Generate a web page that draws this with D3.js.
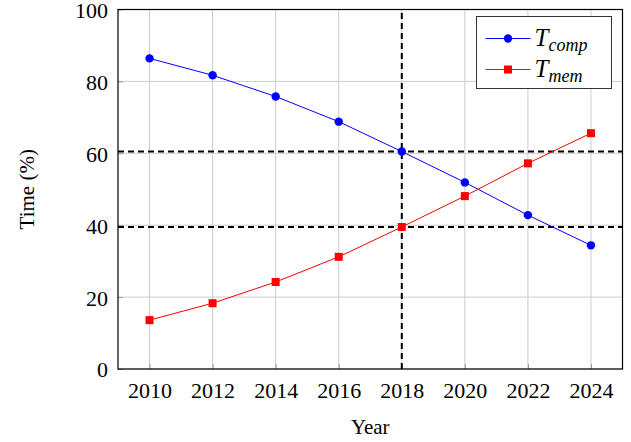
<!DOCTYPE html>
<html>
<head>
<meta charset="utf-8">
<script src="https://cdn.jsdelivr.net/npm/d3@7"></script>
<style>
  body { margin: 0; background: #fff; }
  svg text { font-family: "Liberation Serif", serif !important; }
</style>
</head>
<body>
<div class="chart"></div>
<script>
var years = [2010, 2012, 2014, 2016, 2018, 2020, 2022, 2024];
var tComp = [86.4, 81.7, 75.8, 68.8, 60.5, 51.9, 42.8, 34.4];
var tMem = [13.6, 18.3, 24.2, 31.2, 39.5, 48.1, 57.2, 65.6];
var yTicks = [0, 20, 40, 60, 80, 100];
var crossYear = 2018;
var crossLevels = [60.5, 39.5];

var w = 631, h = 442;
var margin = {top: 9.5, right: 8.5, bottom: 73, left: 118};

var svg = d3.select("div.chart")
            .append("svg")
            .attr("width", w)
            .attr("height", h);

var x = d3.scaleLinear()
          .domain([2009, 2025])
          .range([margin.left, w - margin.right]);

var y = d3.scaleLinear()
          .domain([0, 100])
          .range([h - margin.bottom, margin.top]);

//grid
svg.append("g")
   .selectAll("line")
   .data(years)
   .enter()
   .append("line")
      .attr("x1", d => x(d)).attr("x2", d => x(d))
      .attr("y1", y(0)).attr("y2", y(100))
      .attr("stroke", "#cccccc").attr("stroke-width", 1);

svg.append("g")
   .selectAll("line")
   .data(yTicks)
   .enter()
   .append("line")
      .attr("x1", x(2009)).attr("x2", x(2025))
      .attr("y1", d => y(d)).attr("y2", d => y(d))
      .attr("stroke", "#cccccc").attr("stroke-width", 1);

//axes, ticks drawn inward
var xAxis = d3.axisBottom(x).tickValues(years).tickFormat(d3.format("d"))
              .tickSizeInner(-5).tickSizeOuter(0).tickPadding(13);
var xg = svg.append("g").attr("transform", "translate(0," + y(0) + ")").call(xAxis);

var yAxis = d3.axisLeft(y).tickValues(yTicks)
              .tickSizeInner(-5).tickSizeOuter(0).tickPadding(10);
var yg = svg.append("g").attr("transform", "translate(" + x(2009) + ",0)").call(yAxis);

[xg, yg].forEach(function(g){
  g.attr("font-size", 22);
  g.select(".domain").remove();
  g.selectAll(".tick line").attr("stroke", "#999");
  g.selectAll("text").attr("fill", "#000").style("font-weight", "normal");
});
yg.selectAll("text").attr("dy", "0.36em");

//frame
svg.append("rect")
   .attr("x", x(2009)).attr("y", y(100))
   .attr("width", x(2025) - x(2009)).attr("height", y(0) - y(100))
   .attr("fill", "none").attr("stroke", "#000").attr("stroke-width", 1.2);

//dashed crossover lines
svg.append("line")
   .attr("x1", x(crossYear)).attr("x2", x(crossYear))
   .attr("y1", y(0)).attr("y2", y(100))
   .attr("stroke", "#000").attr("stroke-width", 2).attr("stroke-dasharray", "6,4");

svg.selectAll(".hdash")
   .data(crossLevels)
   .enter()
   .append("line")
      .attr("x1", x(2009)).attr("x2", x(2025))
      .attr("y1", d => y(d)).attr("y2", d => y(d))
      .attr("stroke", "#000").attr("stroke-width", 2).attr("stroke-dasharray", "6,4");

//series
var line = d3.line().x((d, i) => x(years[i])).y(d => y(d));

svg.append("path").datum(tComp)
   .attr("d", line).attr("fill", "none").attr("stroke", "blue").attr("stroke-width", 1);
svg.append("path").datum(tMem)
   .attr("d", line).attr("fill", "none").attr("stroke", "red").attr("stroke-width", 1);

svg.selectAll(".comp")
   .data(tComp)
   .enter()
   .append("circle")
      .attr("cx", (d, i) => x(years[i]))
      .attr("cy", d => y(d))
      .attr("r", 4.2)
      .attr("fill", "blue");

svg.selectAll(".mem")
   .data(tMem)
   .enter()
   .append("rect")
      .attr("x", (d, i) => x(years[i]) - 4)
      .attr("y", d => y(d) - 4)
      .attr("width", 8).attr("height", 8)
      .attr("fill", "red");

//legend
var lg = svg.append("g").attr("transform", "translate(476.5,16.5)");
lg.append("rect").attr("width", 135).attr("height", 72)
  .attr("fill", "#fff").attr("stroke", "#333").attr("stroke-width", 1);

var legendItems = [
  {label: "T", sub: "comp", color: "blue", shape: "circle"},
  {label: "T", sub: "mem", color: "red", shape: "square"}
];

legendItems.forEach(function(item, i){
  var cy = 22 + i * 31;
  lg.append("line").attr("x1", 9).attr("x2", 54).attr("y1", cy).attr("y2", cy)
    .attr("stroke", item.color).attr("stroke-width", 1);
  if (item.shape == "circle") {
    lg.append("circle").attr("cx", 31.5).attr("cy", cy).attr("r", 4.2).attr("fill", item.color);
  } else {
    lg.append("rect").attr("x", 27.5).attr("y", cy - 4).attr("width", 8).attr("height", 8).attr("fill", item.color);
  }
  var t = lg.append("text").attr("x", 58).attr("y", cy + 7)
            .attr("font-size", 25).attr("font-style", "italic");
  t.append("tspan").text(item.label);
  t.append("tspan").attr("font-size", 18).attr("dy", 5).text(item.sub);
});

//axis titles
svg.append("text")
   .attr("x", (x(2009) + x(2025)) / 2).attr("y", 434)
   .attr("text-anchor", "middle").attr("font-size", 21)
   .text("Year");

svg.append("text")
   .attr("transform", "translate(34," + y(50) + ") rotate(-90)")
   .attr("text-anchor", "middle").attr("font-size", 21)
   .text("Time (%)");
</script>
</body>
</html>
